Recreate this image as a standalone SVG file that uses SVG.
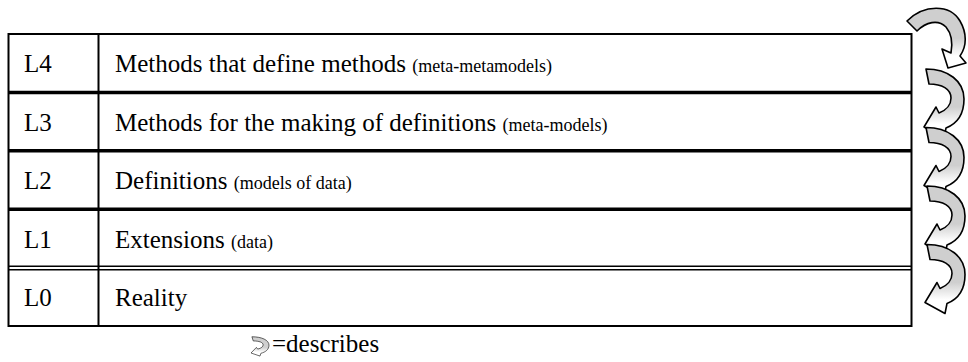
<svg xmlns="http://www.w3.org/2000/svg" width="968" height="362" viewBox="0 0 968 362">
<style>
.lbl{font-family:"Liberation Serif","Times New Roman",serif;font-size:25px;fill:#000}
.sm{font-size:18px}
.thin{stroke:#000;stroke-width:2;fill:none}
.thick{stroke:#000;stroke-width:3.5;fill:none}
.dbl{stroke:#000;stroke-width:1.5;fill:none}
.arw{fill:url(#g);stroke:#000;stroke-width:1.6;stroke-linejoin:round}
</style>
<defs>
<linearGradient id="g" x1="0" y1="0" x2="0" y2="1">
<stop offset="0" stop-color="#cfcfcf"/>
<stop offset="0.55" stop-color="#cfcfcf"/>
<stop offset="0.8" stop-color="#ffffff"/>
<stop offset="1" stop-color="#ffffff"/>
</linearGradient>
<linearGradient id="g2" x1="0" y1="0" x2="0" y2="1">
<stop offset="0" stop-color="#cfcfcf"/>
<stop offset="0.5" stop-color="#cfcfcf"/>
<stop offset="0.8" stop-color="#ffffff"/>
<stop offset="1" stop-color="#ffffff"/>
</linearGradient>
<path id="cv" d="M2,-58 C24,-58 40,-46 40,-28 C40,-12 32,-3 22,1 L20,11 L0,0 L12,-20 L15,-14 C23,-17 27,-23 27,-29 C27,-38 18,-43 5,-43 Z"/>
</defs>

<g id="table">
<rect x="8.5" y="34" width="903" height="292" class="thin"/>
<line x1="98.5" y1="34" x2="98.5" y2="326" class="thin"/>
<line x1="8.5" y1="92.4" x2="911.5" y2="92.4" class="thick"/>
<line x1="8.5" y1="150.8" x2="911.5" y2="150.8" class="thick"/>
<line x1="8.5" y1="209.2" x2="911.5" y2="209.2" class="thick"/>
<line x1="8.5" y1="266.3" x2="911.5" y2="266.3" class="dbl"/>
<line x1="8.5" y1="269.8" x2="911.5" y2="269.8" class="dbl"/>
</g>

<g id="L4">
<text x="24" y="72" class="lbl">L4</text>
<text x="115" y="72" class="lbl">Methods that define methods <tspan class="sm">(meta-metamodels)</tspan></text>
</g>
<g id="L3">
<text x="24" y="130.5" class="lbl">L3</text>
<text x="115" y="130.5" class="lbl">Methods for the making of definitions <tspan class="sm">(meta-models)</tspan></text>
</g>
<g id="L2">
<text x="24" y="189" class="lbl">L2</text>
<text x="115" y="189" class="lbl">Definitions <tspan class="sm">(models of data)</tspan></text>
</g>
<g id="L1">
<text x="24" y="247.5" class="lbl">L1</text>
<text x="115" y="247.5" class="lbl">Extensions <tspan class="sm">(data)</tspan></text>
</g>
<g id="L0">
<text x="24" y="306" class="lbl">L0</text>
<text x="115" y="306" class="lbl">Reality</text>
</g>

<g id="connectors">
<path class="arw" style="fill:url(#g2)" d="M907,21 C924,4 950,4 960,21 C967,33 967,46 960,56 L966,63 L948,68 L942,49 L951,53 C953,42 951,33 946,27 C938,19 926,22 917,31 Z"/>
<use href="#cv" class="arw" transform="translate(924,127)"/>
<use href="#cv" class="arw" transform="translate(924,185.5)"/>
<use href="#cv" class="arw" transform="translate(925,244)"/>
<use href="#cv" class="arw" transform="translate(925,302.5)"/>
</g>

<g id="legend">
<use href="#cv" class="arw" style="vector-effect:non-scaling-stroke" transform="translate(251,353) scale(0.45,0.28)"/>
<text x="272" y="352" class="lbl">=describes</text>
</g>
</svg>
